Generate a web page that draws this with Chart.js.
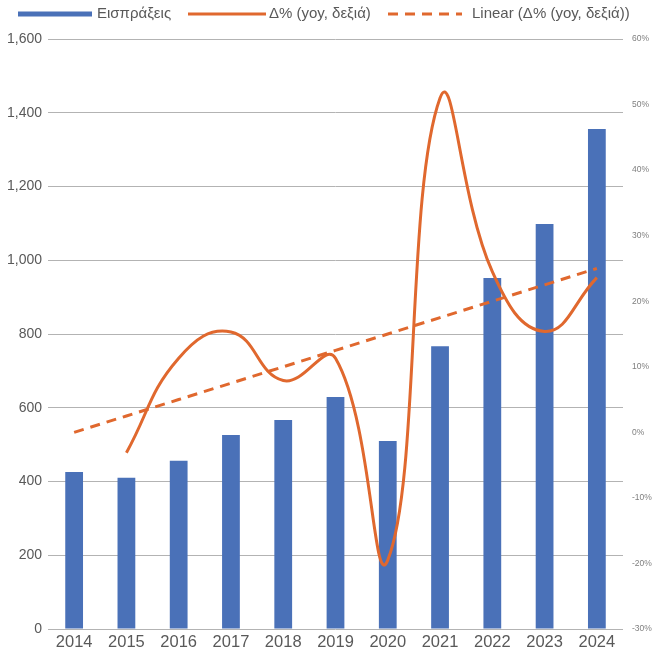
<!DOCTYPE html>
<html>
<head>
<meta charset="utf-8">
<script src="https://cdn.jsdelivr.net/npm/chart.js@4.4.1/dist/chart.umd.min.js"></script>
<style>
  html, body { margin: 0; padding: 0; background: #ffffff; }
  #wrap { width: 653px; height: 657px; }
</style>
</head>
<body>
<div id="wrap"><canvas id="c" width="653" height="657"></canvas></div>
<script>
const categories = ['2014','2015','2016','2017','2018','2019','2020','2021','2022','2023','2024'];
const receipts = [426, 410, 456, 526, 567, 629, 510, 767, 952, 1098, 1356];
const yoyPct = [null, -3.1, 11.3, 15.3, 7.9, 11.3, -19.5, 51.0, 24.5, 15.4, 23.6];
const trendPct = [0.0, 2.5, 5.0, 7.5, 10.0, 12.5, 15.0, 17.5, 20.0, 22.5, 25.0];
const seriesNames = ['Εισπράξεις', 'Δ% (yoy, δεξιά)', 'Linear (Δ% (yoy, δεξιά))'];

const BLUE = '#4a71b8';
const ORANGE = '#e0682e';
const FONT = '"Liberation Sans", Arial, sans-serif';

const legendPlugin = {
  id: 'manualLegend',
  afterDraw(chart) {
    const ctx = chart.ctx;
    ctx.save();
    const y = 14;
    ctx.font = '15px ' + FONT;
    ctx.fillStyle = '#595959';
    ctx.textBaseline = 'middle';
    ctx.textAlign = 'left';
    // item 1: bar series
    ctx.fillStyle = BLUE;
    ctx.fillRect(18, y - 2.5, 74, 5);
    ctx.fillStyle = '#595959';
    ctx.fillText(seriesNames[0], 97, y);
    // item 2: line
    ctx.strokeStyle = ORANGE;
    ctx.lineWidth = 3;
    ctx.beginPath(); ctx.moveTo(188, y); ctx.lineTo(266, y); ctx.stroke();
    ctx.fillText(seriesNames[1], 269, y);
    // item 3: dashed
    ctx.setLineDash([10, 7]);
    ctx.beginPath(); ctx.moveTo(388, y); ctx.lineTo(462, y); ctx.stroke();
    ctx.setLineDash([]);
    ctx.fillText(seriesNames[2], 472, y);
    ctx.restore();
  }
};

new Chart(document.getElementById('c'), {
  data: {
    labels: categories,
    datasets: [
      {
        type: 'line',
        label: seriesNames[2],
        data: trendPct,
        yAxisID: 'y2',
        borderColor: ORANGE,
        borderWidth: 3,
        borderDash: [10, 7],
        pointRadius: 0,
        tension: 0,
        order: 1
      },
      {
        type: 'line',
        label: seriesNames[1],
        data: yoyPct,
        yAxisID: 'y2',
        borderColor: ORANGE,
        borderWidth: 3,
        pointRadius: 0,
        tension: 0.45,
        spanGaps: false,
        order: 0
      },
      {
        type: 'bar',
        label: seriesNames[0],
        data: receipts,
        yAxisID: 'y',
        backgroundColor: BLUE,
        barPercentage: 0.34,
        categoryPercentage: 1.0,
        order: 2
      }
    ]
  },
  options: {
    responsive: false,
    animation: false,
    devicePixelRatio: 1,
    layout: { padding: { top: 39, left: 0, right: 0, bottom: 0 } },
    plugins: { legend: { display: false }, tooltip: { enabled: false } },
    scales: {
      x: {
        offset: true,
        grid: { display: false, drawTicks: false },
        border: { display: false },
        ticks: { color: '#595959', font: { family: FONT, size: 16.5 }, padding: 4, maxRotation: 0 },
        afterFit(s) { s.height = 28; }
      },
      y: {
        position: 'left',
        min: 0, max: 1600,
        ticks: {
          stepSize: 200, color: '#595959', font: { family: FONT, size: 14 }, padding: 6,
          callback: v => v.toLocaleString('en-US')
        },
        grid: { color: '#b3b3b3', lineWidth: 1, drawTicks: false },
        border: { display: false },
        afterFit(s) { s.width = 48; }
      },
      y2: {
        position: 'right',
        min: -30, max: 60,
        ticks: {
          stepSize: 10, color: '#7f7f7f', font: { family: FONT, size: 8.5 }, padding: 9,
          callback: v => v + '%'
        },
        grid: { display: false, drawTicks: false },
        border: { display: false },
        afterFit(s) { s.width = 30; }
      }
    }
  },
  plugins: [legendPlugin]
});
</script>
</body>
</html>
